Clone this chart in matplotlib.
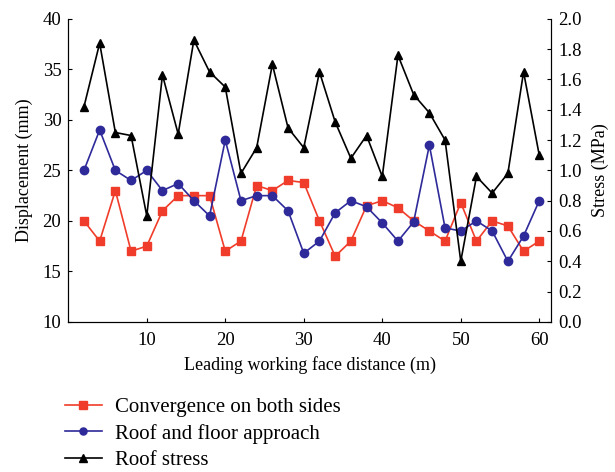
import matplotlib
matplotlib.use("Agg")
import matplotlib.pyplot as plt

plt.rcParams['font.family'] = ['Liberation Serif', 'DejaVu Serif']

distance = [2, 4, 6, 8, 10, 12, 14, 16, 18, 20, 22, 24, 26, 28, 30,
            32, 34, 36, 38, 40, 42, 44, 46, 48, 50, 52, 54, 56, 58, 60]

# displacement (mm)
convergence = [20, 18, 23, 17, 17.5, 21, 22.5, 22.5, 22.5, 17, 18, 23.5, 23, 24, 23.8,
               20, 16.5, 18, 21.5, 22, 21.3, 20, 19, 18, 21.8, 18, 20, 19.5, 17, 18]
roof_floor = [25, 29, 25, 24, 25, 23, 23.7, 22, 20.5, 28, 22, 22.5, 22.5, 21, 16.8,
              18, 20.8, 22, 21.4, 19.8, 18, 19.9, 27.5, 19.3, 19, 20, 19, 16, 18.5, 22]

# stress (MPa)
roof_stress = [1.42, 1.84, 1.25, 1.23, 0.70, 1.63, 1.24, 1.86, 1.65, 1.55, 0.98, 1.15, 1.70, 1.28, 1.15,
               1.65, 1.32, 1.08, 1.23, 0.96, 1.76, 1.50, 1.38, 1.20, 0.40, 0.96, 0.85, 0.98, 1.65, 1.10]

red = '#f03c2a'
blue = '#2e2a9a'

fig = plt.figure(figsize=(6.15, 4.72), dpi=100)
ax = fig.add_axes([0.111, 0.318, 0.785, 0.642])
ax2 = ax.twinx()

l1, = ax.plot(distance, convergence, color=red, marker='s', markersize=6, lw=1.2,
              label='Convergence on both sides')
l2, = ax.plot(distance, roof_floor, color=blue, marker='o', markersize=6, lw=1.2,
              label='Roof and floor approach')
l3, = ax2.plot(distance, roof_stress, color='black', marker='^', markersize=6, lw=1.2,
               label='Roof stress')

ax.set_xlim(0, 61.5)
ax.set_ylim(10, 40)
ax2.set_ylim(0, 2.0)
ax.set_xticks([10, 20, 30, 40, 50, 60])
ax.set_yticks(range(10, 41, 5))
ax2.set_yticks([i / 10 for i in range(0, 21, 2)])
ax2.set_yticklabels([f'{i / 10:.1f}' for i in range(0, 21, 2)])

for a in (ax, ax2):
    a.spines['top'].set_visible(False)
    a.tick_params(direction='in', labelsize=13.5, length=3, pad=5)
ax.tick_params(axis='x', pad=7)

ax.set_xlabel('Leading working face distance (m)', fontsize=13, labelpad=5)
ax.set_ylabel('Displacement (mm)', fontsize=13, labelpad=7)
ax2.set_ylabel('Stress (MPa)', fontsize=13, labelpad=7)

fig.legend(handles=[l1, l2, l3], loc='upper left', bbox_to_anchor=(0.105, 0.158),
           frameon=False, fontsize=15, handlelength=1.8, labelspacing=0.32,
           handletextpad=0.6, borderaxespad=0, borderpad=0, markerscale=0.85)

fig.savefig('out.png', dpi=100)
